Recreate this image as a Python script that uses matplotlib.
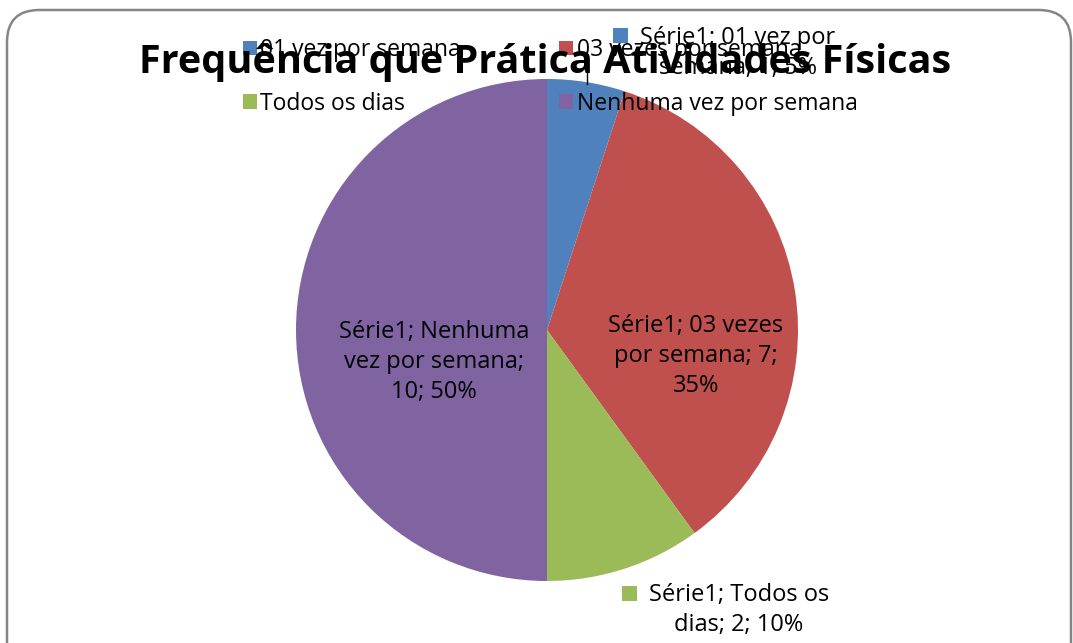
import matplotlib
matplotlib.use("Agg")
import matplotlib.pyplot as plt
from matplotlib.patches import FancyBboxPatch, Rectangle
from matplotlib.lines import Line2D

title = "Frequência que Prática Atividades Físicas"
series_name = "Série1"
categories = ["01 vez por semana", "03 vezes por semana", "Todos os dias", "Nenhuma vez por semana"]
values = [1, 7, 2, 10]
colors = ["#4F81BD", "#C0504D", "#9BBB59", "#8064A2"]

W, H = 1073, 643
fig = plt.figure(figsize=(W / 100, H / 100), dpi=100)
fig.patch.set_facecolor("white")
FONT = ["Open Sans", "DejaVu Sans"]

def fx(x):
    return x / W

def fy(y):
    return 1 - y / H

# frame
frame = FancyBboxPatch((fx(7), fy(700)), fx(1071 - 7), (700 - 10) / H,
                       boxstyle="round,pad=0,rounding_size=0.03",
                       transform=fig.transFigure, facecolor="none",
                       edgecolor="#868686", lw=1.8, zorder=-10, mutation_aspect=W / H)
fig.patches.append(frame)

# pie axes: center (547,330), radius 251
cx, cy, r = 547, 330, 251
ax = fig.add_axes([fx(cx - r), fy(cy + r), 2 * r / W, 2 * r / H])
ax.set_zorder(1)
wedges, _ = ax.pie(values, colors=colors, startangle=90, counterclock=False,
                   radius=1.0, wedgeprops=dict(linewidth=0))
ax.set_xlim(-1, 1)
ax.set_ylim(-1, 1)
ax.set_aspect("auto")
ax.axis("off")

total = sum(values)
pct = [round(100 * v / total) for v in values]
wrapped = [
    f"{series_name}; 01 vez por\nsemana; {values[0]}; {pct[0]}%",
    f"{series_name}; 03 vezes\npor semana; {values[1]};\n{pct[1]}%",
    f"{series_name}; Todos os\ndias; {values[2]}; {pct[2]}%",
    f"{series_name}; Nenhuma\nvez por semana;\n{values[3]}; {pct[3]}%",
]

lfs = 17
ls = 1.36
# inside labels
fig.text(fx(696), fy(356), wrapped[1], ha="center", va="center", fontsize=lfs,
         family=FONT, linespacing=ls, color="black", zorder=5)
fig.text(fx(434), fy(362), wrapped[3], ha="center", va="center", fontsize=lfs,
         family=FONT, linespacing=ls, color="black", zorder=5)
# outside labels with colored markers
fig.text(fx(738), fy(53), wrapped[0], ha="center", va="center", fontsize=lfs,
         family=FONT, linespacing=ls, color="black", zorder=5)
fig.patches.append(Rectangle((fx(613), fy(43)), 15 / W, 15 / H, transform=fig.transFigure,
                             facecolor=colors[0], edgecolor="none", zorder=5))
fig.text(fx(739), fy(610), wrapped[2], ha="center", va="center", fontsize=lfs,
         family=FONT, linespacing=ls, color="black", zorder=5)
fig.patches.append(Rectangle((fx(622), fy(601)), 15 / W, 15 / H, transform=fig.transFigure,
                             facecolor=colors[2], edgecolor="none", zorder=5))
# leader line
fig.lines.append(Line2D([fx(587), fx(587)], [fy(62), fy(84)], transform=fig.transFigure,
                        color="black", lw=1, zorder=5))

# legend (row-wise order)
order = [0, 2, 1, 3]
leg = fig.legend([wedges[i] for i in order], [categories[i] for i in order],
                 loc="upper left", bbox_to_anchor=(fx(243), fy(38)),
                 ncol=2, frameon=False, prop={"family": FONT, "size": 16.5},
                 handlelength=0.6, handleheight=0.6, handletextpad=0.15,
                 columnspacing=4.3, labelspacing=1.3, borderaxespad=0, borderpad=0)
leg.set_zorder(6)
for t in leg.get_texts():
    t.set_color("black")

# title
fig.text(fx(545), fy(62), title, ha="center", va="center", fontsize=28.5,
         fontweight="bold", family=FONT, color="black", zorder=10)

fig.savefig("out.png", dpi=100, facecolor="white")
